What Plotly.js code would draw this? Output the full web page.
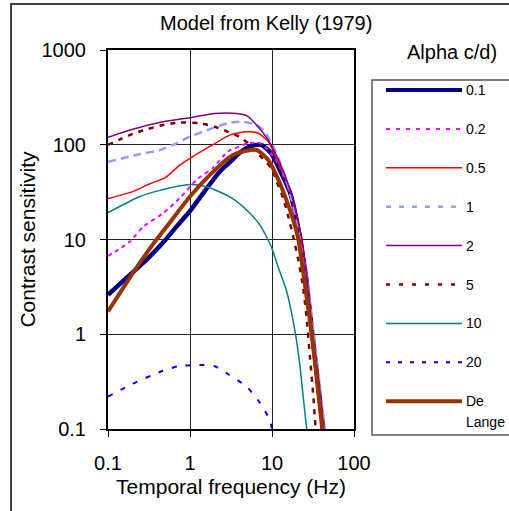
<!DOCTYPE html>
<html>
<head>
<meta charset="utf-8">
<script src="https://cdn.plot.ly/plotly-3.0.1.min.js"></script>
<style>html,body{margin:0;padding:0;background:#fff;}#chart{width:509px;height:511px;}</style>
</head>
<body>
<div id="chart"></div>
<script>
// ---- data ----
const seriesNames = ["0.1", "0.2", "0.5", "1", "2", "5", "10", "20", "De Lange"];

const x01 = [0.1, 0.15, 0.2, 0.3, 0.5, 0.7, 1, 1.6, 2.3, 3.1, 4, 5, 6, 7.5, 9.8, 13, 16.7, 20, 22, 26, 31, 36, 42];
const y01 = [2.6, 3.6, 4.5, 6.2, 9.9, 14, 20, 34.7, 52, 66, 82, 93, 99, 99, 81, 50, 30.8, 16, 10, 4, 1.0, 0.33, 0.1];

const x02 = [0.1, 0.134, 0.185, 0.27, 0.47, 0.75, 1.2, 1.9, 2.9, 4.0, 5.1, 7.1, 9, 12, 15.8, 19.5, 23, 27, 31, 36, 43];
const y02 = [6.7, 7.8, 9.5, 13.7, 18.9, 27.3, 42.6, 57, 85, 96, 104, 104, 88, 62, 35, 19, 10, 4, 1.1, 0.35, 0.1];

const x05 = [0.1, 0.2, 0.33, 0.5, 0.75, 1, 1.75, 3.1, 4.8, 6.7, 9, 12, 16.7, 20.6, 23, 27, 31.7, 37, 43];
const y05 = [27, 32, 39, 45, 61, 72, 96, 127, 137, 133, 108, 64, 33, 16, 10.4, 3.5, 1.0, 0.33, 0.1];

const x1 = [0.1, 0.22, 0.43, 0.69, 1, 1.75, 2.9, 4.4, 6.5, 8.2, 11.4, 15.8, 21.9, 27, 32, 37, 44];
const y1 = [65.9, 78, 88, 104, 122, 146, 169, 175, 162, 137, 81, 36, 10.8, 3.5, 1.1, 0.37, 0.1];

const x2 = [0.1, 0.2, 0.47, 1, 2, 3.7, 4.9, 6.2, 9, 12.5, 16.7, 20.6, 23, 27, 31.5, 37, 43];
const y2 = [120, 146, 175, 193, 214, 214, 203, 169, 112, 64, 33, 16, 10.2, 3.5, 1.0, 0.33, 0.1];

const x5 = [0.1, 0.14, 0.2, 0.3, 0.43, 0.72, 1.3, 2, 2.9, 4.1, 5.1, 7, 9.9, 11.4, 13.7, 15.8, 18.5, 21, 23.5, 26, 29, 31.7, 34];
const y5 = [99.6, 114, 130, 146, 159, 171, 169, 155, 137, 120, 104, 78, 56, 41, 27.3, 17.5, 10, 6, 3.5, 1.7, 0.58, 0.24, 0.1];

const x10 = [0.1, 0.245, 0.43, 1, 1.6, 3.1, 4.9, 7.1, 9.8, 12, 15, 19, 21.7, 24, 26.5];
const y10 = [19.2, 28.4, 33, 38, 36, 28, 20.5, 14.3, 8.4, 5, 2.9, 1.1, 0.5, 0.22, 0.1];

const x20 = [0.1, 0.2, 0.43, 0.72, 1.3, 2, 2.9, 4.9, 7.1, 9.4, 10];
const y20 = [0.22, 0.30, 0.40, 0.46, 0.475, 0.46, 0.38, 0.28, 0.19, 0.125, 0.1];

const xDL = [0.1, 0.2, 0.36, 0.52, 1, 1.75, 3.1, 3.7, 4.7, 6.5, 9, 12, 15, 18.2, 21, 25, 30.5, 35, 41];
const yDL = [1.74, 4.4, 9.1, 13.7, 28.4, 48, 75, 81, 86, 88, 69, 42.6, 26, 16, 10, 3.5, 1, 0.35, 0.1];

const xTickVals = [0.1, 1, 10, 100];
const xTickText = ["0.1", "1", "10", "100"];
const yTickVals = [0.1, 1, 10, 100, 1000];
const yTickText = ["0.1", "1", "10", "100", "1000"];

// ---- styles ----
const xs = [x01, x02, x05, x1, x2, x5, x10, x20, xDL];
const ys = [y01, y02, y05, y1, y2, y5, y10, y20, yDL];
const colors = ["#000080", "#FF00FF", "#FF0000", "#9999FF", "#800080", "#800000", "#008080", "#0000FF", "#993300"];
const widths = [4.5, 2, 1.5, 2.5, 1.5, 2.5, 1.5, 2, 4];
const dashes = ["solid", "4px,4px", "solid", "8px,5px", "solid", "5px,6px", "solid", "5px,9px", "solid"];
const legDashes = ["solid", "4px,6px", "solid", "5px,8px", "solid", "4px,9px", "solid", "4px,8px", "solid"];

const FONT = "Liberation Sans, Arial, sans-serif";

const traces = seriesNames.map((n, i) => ({
  type: "scatter", mode: "lines", name: n,
  x: xs[i], y: ys[i],
  line: {color: colors[i], width: widths[i], dash: dashes[i], shape: "spline", smoothing: 0.6},
  showlegend: false, hoverinfo: "skip"
}));

// plot area in pixels: x 108..354, y 50..429
const L = 108, R = 354, T = 50, B = 429;
const px = v => (v - L) / (R - L);
const py = v => (B - v) / (B - T);

const shapes = [];
const annotations = [];
// outer frame
shapes.push({type: "rect", xref: "paper", yref: "paper", x0: px(11), x1: px(540), y0: py(540), y1: py(4),
  line: {color: "#404040", width: 2}, layer: "below"});
// legend box
shapes.push({type: "rect", xref: "paper", yref: "paper", x0: px(372), x1: px(540), y0: py(435), y1: py(80),
  line: {color: "#555555", width: 1.5}, fillcolor: "#ffffff", layer: "below"});
seriesNames.forEach((n, i) => {
  const yy = 90 + 38.9 * i;
  shapes.push({type: "line", xref: "paper", yref: "paper", x0: px(386), x1: px(462), y0: py(yy), y1: py(yy),
    line: {color: colors[i], width: Math.min(widths[i], 4), dash: legDashes[i]}});
  if (n === "De Lange") {
    annotations.push({xref: "paper", yref: "paper", x: px(464), y: py(yy), xanchor: "left", yanchor: "middle",
      text: "De", showarrow: false, font: {family: FONT, size: 14, color: "#000"}});
    annotations.push({xref: "paper", yref: "paper", x: px(464), y: py(yy + 21), xanchor: "left", yanchor: "middle",
      text: "Lange", showarrow: false, font: {family: FONT, size: 14, color: "#000"}});
  } else {
    annotations.push({xref: "paper", yref: "paper", x: px(464), y: py(yy), xanchor: "left", yanchor: "middle",
      text: n, showarrow: false, font: {family: FONT, size: 14, color: "#000"}});
  }
});
// legend title
annotations.push({xref: "paper", yref: "paper", x: px(452), y: py(52), xanchor: "center", yanchor: "middle",
  text: "Alpha c/d)", showarrow: false, font: {family: FONT, size: 20, color: "#000"}});

const layout = {
  width: 509, height: 511,
  margin: {l: L, r: 509 - R, t: T, b: 511 - B, pad: 0},
  paper_bgcolor: "#ffffff", plot_bgcolor: "#ffffff",
  font: {family: FONT, color: "#000"},
  title: {text: "Model from Kelly (1979)", x: 0.523, xanchor: "center", y: 1 - 23 / 511, yanchor: "middle",
    font: {family: FONT, size: 20, color: "#000"}},
  showlegend: false,
  xaxis: {
    type: "log", range: [-1, 2], tickvals: xTickVals, ticktext: xTickText,
    showgrid: true, gridcolor: "#222", gridwidth: 1, zeroline: false,
    showline: true, linecolor: "#000", linewidth: 2, mirror: true,
    ticks: "outside", ticklen: 6, tickcolor: "#000", tickwidth: 1,
    tickfont: {family: FONT, size: 20, color: "#000"}, ticklabelstandoff: 9,
    title: {text: "Temporal frequency (Hz)", font: {family: FONT, size: 21, color: "#000"}, standoff: 6}
  },
  yaxis: {
    type: "log", range: [-1, 3], tickvals: yTickVals, ticktext: yTickText,
    showgrid: true, gridcolor: "#222", gridwidth: 1, zeroline: false,
    showline: true, linecolor: "#000", linewidth: 2, mirror: true,
    ticks: "outside", ticklen: 6, tickcolor: "#000", tickwidth: 1,
    tickfont: {family: FONT, size: 20, color: "#000"}, ticklabelstandoff: 10,
    title: {text: "Contrast sensitivity", font: {family: FONT, size: 21, color: "#000"}, standoff: 0}
  },
  shapes: shapes,
  annotations: annotations
};

Plotly.newPlot("chart", traces, layout, {staticPlot: true, displayModeBar: false});
</script>
</body>
</html>
